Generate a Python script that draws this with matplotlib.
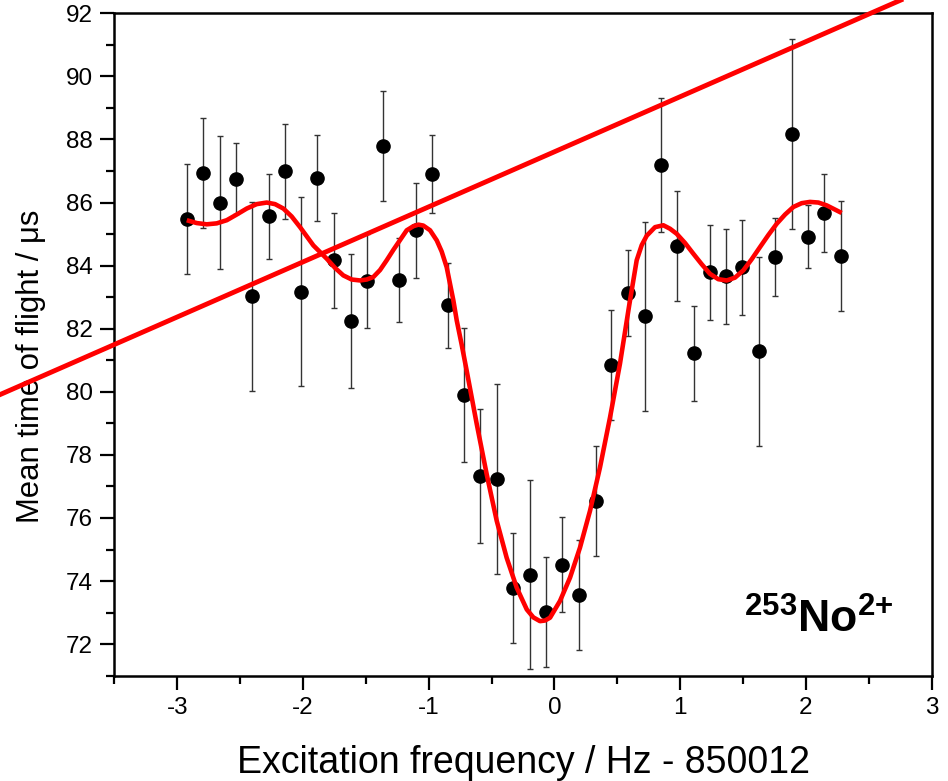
import matplotlib
matplotlib.use("Agg")
import matplotlib.pyplot as plt
from matplotlib.ticker import MultipleLocator

plt.rcParams['font.family'] = ['Liberation Sans', 'DejaVu Sans']
plt.rcParams['mathtext.fontset'] = 'custom'
plt.rcParams['mathtext.rm'] = 'Liberation Sans'
plt.rcParams['mathtext.bf'] = 'Liberation Sans:bold'
plt.rcParams['axes.unicode_minus'] = False

# measured points
freq = [-2.924, -2.792, -2.662, -2.532, -2.403, -2.27, -2.143, -2.013, -1.886, -1.75,
        -1.62, -1.493, -1.366, -1.234, -1.103, -0.971, -0.849, -0.717, -0.589, -0.457,
        -0.327, -0.192, -0.069, 0.063, 0.198, 0.331, 0.452, 0.587, 0.718, 0.848,
        0.972, 1.107, 1.237, 1.364, 1.494, 1.627, 1.756, 1.887, 2.019, 2.146, 2.279]
tof = [85.49, 86.93, 86.0, 86.76, 83.03, 85.57, 86.99, 83.18, 86.78, 84.17,
       82.24, 83.51, 87.8, 83.55, 85.12, 86.9, 82.74, 79.9, 77.34, 77.25,
       73.78, 74.2, 73.03, 74.52, 73.56, 76.54, 80.84, 83.13, 82.39, 87.2,
       84.62, 81.22, 83.79, 83.66, 83.95, 81.28, 84.27, 88.17, 84.91, 85.67, 84.3]
tof_err = [1.74, 1.75, 2.12, 1.13, 3.0, 1.35, 1.51, 3.0, 1.35, 1.5,
           2.12, 1.5, 1.74, 1.33, 1.5, 1.23, 1.34, 2.13, 2.13, 3.01,
           1.74, 3.0, 1.74, 1.5, 1.74, 1.74, 1.74, 1.35, 3.0, 2.12,
           1.74, 1.5, 1.5, 1.5, 1.5, 3.0, 1.23, 3.0, 1.0, 1.23, 1.74]

# fitted resonance curve
fit_x = [-2.924, -2.845, -2.765, -2.686, -2.606, -2.527, -2.447, -2.368, -2.288, -2.222,
         -2.156, -2.09, -2.023, -1.917, -1.811, -1.745, -1.679, -1.612, -1.546, -1.493,
         -1.44, -1.387, -1.334, -1.281, -1.228, -1.175, -1.122, -1.082, -1.043, -0.989,
         -0.936, -0.897, -0.857, -0.804, -0.777, -0.738, -0.698, -0.618, -0.539, -0.459,
         -0.38, -0.3, -0.22, -0.168, -0.115, -0.075, -0.035, 0.044, 0.124, 0.203,
         0.283, 0.362, 0.442, 0.521, 0.594, 0.654, 0.694, 0.734, 0.80, 0.866,
         0.919, 0.972, 1.038, 1.104, 1.17, 1.237, 1.303, 1.37, 1.436, 1.502,
         1.568, 1.635, 1.701, 1.768, 1.834, 1.9, 1.966, 2.032, 2.099, 2.165, 2.284]
fit_y = [85.44, 85.35, 85.31, 85.34, 85.44, 85.62, 85.81, 85.95, 86.0, 85.95,
         85.81, 85.56, 85.22, 84.64, 84.22, 83.93, 83.69, 83.56, 83.53, 83.56,
         83.64, 83.86, 84.17, 84.5, 84.81, 85.12, 85.25, 85.3, 85.27, 85.12,
         84.8, 84.45, 83.95, 82.9, 82.26, 81.5, 80.67, 78.98, 77.39, 75.91,
         74.74, 73.79, 73.1, 72.85, 72.73, 72.75, 72.84, 73.37, 74.11, 75.06,
         76.23, 77.6, 79.19, 80.89, 82.73, 84.17, 84.65, 84.95, 85.22, 85.28,
         85.17, 85.01, 84.72, 84.38, 84.05, 83.74, 83.57, 83.53, 83.62, 83.85,
         84.2, 84.59, 84.97, 85.33, 85.62, 85.86, 85.98, 86.02, 86.0, 85.91, 85.67]

# straight red line
line_x = [-4.41, 2.755]
line_y = [79.91, 92.42]

fig = plt.figure(figsize=(9.48, 7.81), dpi=100)
ax = fig.add_axes([0.1206, 0.1348, 0.8622, 0.8482])

ax.errorbar(freq, tof, yerr=tof_err, fmt='o', color='black', ms=9.5,
            ecolor='#333333', elinewidth=1.0, capsize=2.4, capthick=1.0, zorder=3)
ax.plot(fit_x, fit_y, color='#ff0000', lw=3.3, solid_joinstyle='round',
        solid_capstyle='butt', zorder=4)
ax.plot(line_x, line_y, color='#ff0000', lw=3.5, clip_on=False, zorder=10)

ax.set_xlim(-3.5, 3)
ax.set_ylim(71, 92)
ax.xaxis.set_major_locator(MultipleLocator(1))
ax.xaxis.set_minor_locator(MultipleLocator(0.5))
ax.yaxis.set_major_locator(MultipleLocator(2))
ax.yaxis.set_minor_locator(MultipleLocator(1))
ax.tick_params(which='major', direction='out', length=10, width=1.6,
               labelsize=17.5, pad=5.5, top=False, right=False)
ax.tick_params(which='minor', direction='out', length=5.5, width=1.6,
               top=False, right=False)
for s in ax.spines.values():
    s.set_linewidth(1.8)

ax.set_xlabel('Excitation frequency / Hz - 850012', fontsize=27)
ax.set_ylabel('Mean time of flight / μs', fontsize=22.3)
ax.xaxis.set_label_coords(0.5, -0.104)
ax.yaxis.set_label_coords(-0.083, 0.4668)

ax.text(0.953, 0.065, r'$\mathbf{{}^{253}No^{2{+}}}$', transform=ax.transAxes,
        fontsize=32, ha='right', va='baseline')

fig.savefig('out.png', dpi=100)
